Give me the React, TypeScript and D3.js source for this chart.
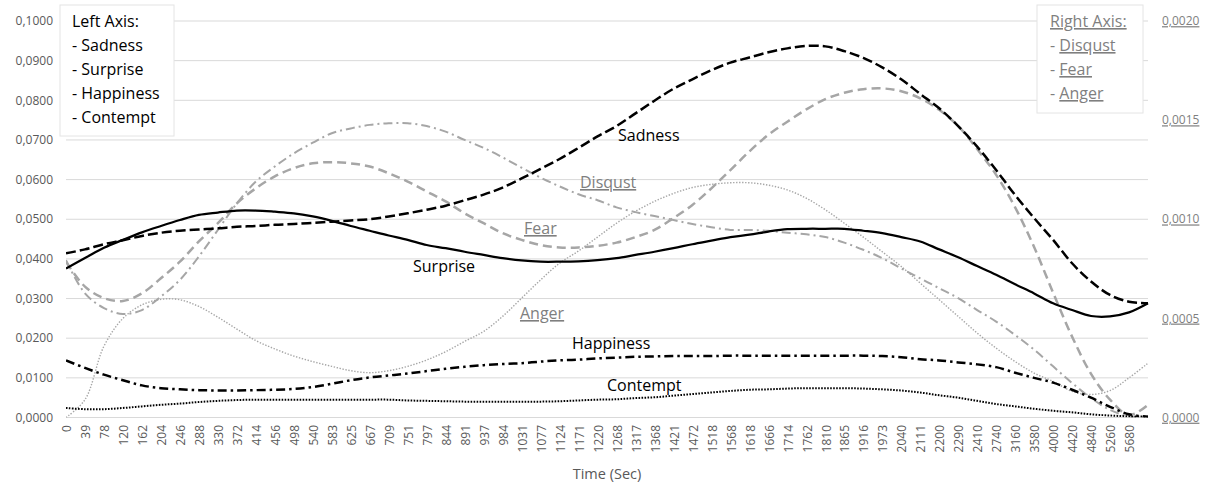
import React from "react";
import * as d3 from "d3";

// Category axis (seconds); the last point is drawn but carries no label in the original
const timeLabels = [
  "0", "39", "78", "120", "162", "204", "246", "288", "330", "372",
  "414", "456", "498", "540", "583", "625", "667", "709", "751", "797",
  "844", "891", "937", "984", "1031", "1077", "1124", "1171", "1220", "1268",
  "1317", "1368", "1421", "1472", "1518", "1568", "1618", "1666", "1714", "1762",
  "1810", "1865", "1916", "1973", "2040", "2111", "2200", "2290", "2410", "2740",
  "3160", "3580", "4000", "4420", "4840", "5260", "5680", "",
];

// Left axis series
const sadness = [
  0.0414, 0.0424, 0.0437, 0.0447, 0.0458, 0.0466, 0.0471, 0.0474, 0.0477, 0.0481,
  0.0483, 0.0486, 0.0488, 0.0491, 0.0494, 0.0497, 0.05, 0.0507, 0.0515, 0.0524,
  0.0534, 0.0548, 0.0562, 0.058, 0.0603, 0.0627, 0.0652, 0.068, 0.0709, 0.0735,
  0.0767, 0.0799, 0.0829, 0.0853, 0.0876, 0.0895, 0.0908, 0.0921, 0.0931, 0.0937,
  0.0936, 0.0924, 0.0907, 0.0883, 0.0853, 0.0816, 0.078, 0.0735, 0.0683, 0.0624,
  0.0561, 0.0503, 0.0448, 0.0389, 0.0343, 0.0309, 0.0292, 0.0288,
];
const surprise = [
  0.0376, 0.0402, 0.0428, 0.0448, 0.0467, 0.0483, 0.0498, 0.0511, 0.0517, 0.0522,
  0.0522, 0.0519, 0.0515, 0.0507, 0.0496, 0.0483, 0.0471, 0.0459, 0.0448, 0.0435,
  0.0427, 0.0418, 0.041, 0.0402, 0.0396, 0.0393, 0.0393, 0.0394, 0.0397, 0.0402,
  0.041, 0.0418, 0.0427, 0.0437, 0.0446, 0.0455, 0.0461, 0.0469, 0.0475, 0.0476,
  0.0476, 0.0476, 0.0471, 0.0465, 0.0455, 0.0444, 0.0424, 0.0404, 0.0382, 0.036,
  0.0336, 0.0313, 0.0288, 0.0271, 0.0256, 0.0255, 0.0265, 0.0288,
];
const happiness = [
  0.0144, 0.0125, 0.0108, 0.0094, 0.0081, 0.0074, 0.0071, 0.0069, 0.0068, 0.0068,
  0.0069, 0.007, 0.0072, 0.0077, 0.0085, 0.0094, 0.0101, 0.0106, 0.0111, 0.0117,
  0.0123, 0.0128, 0.0132, 0.0135, 0.0137, 0.0141, 0.0144, 0.0146, 0.0149, 0.0151,
  0.0153, 0.0154, 0.0155, 0.0155, 0.0155, 0.0156, 0.0156, 0.0156, 0.0156, 0.0156,
  0.0156, 0.0156, 0.0156, 0.0155, 0.0152, 0.0147, 0.0144, 0.0139, 0.0134, 0.0127,
  0.0113, 0.01, 0.0088, 0.007, 0.005, 0.0027, 0.0008, 0.0002,
];
const contempt = [
  0.0024, 0.0021, 0.0021, 0.0024, 0.0028, 0.0032, 0.0035, 0.0039, 0.0042, 0.0044,
  0.0045, 0.0045, 0.0045, 0.0045, 0.0045, 0.0045, 0.0045, 0.0045, 0.0043, 0.0042,
  0.0041, 0.004, 0.004, 0.004, 0.004, 0.004, 0.0041, 0.0043, 0.0045, 0.0046,
  0.0049, 0.0051, 0.0055, 0.0059, 0.0063, 0.0067, 0.007, 0.0071, 0.0073, 0.0074,
  0.0074, 0.0074, 0.0073, 0.0071, 0.0068, 0.0063, 0.0056, 0.005, 0.0042, 0.0034,
  0.0028, 0.0022, 0.0017, 0.0013, 0.0008, 0.0005, 0.0003, 0.0002,
];

// Right axis series
const disgust = [
  0.000794, 0.000626, 0.000552, 0.000522, 0.000542, 0.00061, 0.000694, 0.000812, 0.000946, 0.00108,
  0.00119, 0.001266, 0.001332, 0.001386, 0.001434, 0.001458, 0.001476, 0.001484, 0.001484, 0.00147,
  0.001442, 0.0014, 0.00136, 0.001312, 0.00126, 0.00121, 0.001166, 0.001126, 0.001096, 0.00106,
  0.001036, 0.001016, 0.000996, 0.000976, 0.00096, 0.000946, 0.000946, 0.000942, 0.000932, 0.000924,
  0.00091, 0.000882, 0.000846, 0.000804, 0.000752, 0.000702, 0.000652, 0.000602, 0.000542, 0.000484,
  0.000416, 0.000342, 0.000258, 0.000174, 0.000098, 0.000038, 0.000006, 0.0,
];
const fear = [
  0.000786, 0.00066, 0.000602, 0.000588, 0.000626, 0.000702, 0.000786, 0.000888, 0.00098, 0.00108,
  0.001156, 0.001216, 0.001258, 0.001282, 0.001288, 0.001282, 0.001266, 0.001232, 0.00119, 0.00114,
  0.00109, 0.00103, 0.00098, 0.00093, 0.000896, 0.00087, 0.000858, 0.000858, 0.000866, 0.000882,
  0.00091, 0.000946, 0.001006, 0.001072, 0.001156, 0.001248, 0.001342, 0.001426, 0.001492, 0.001554,
  0.001606, 0.001638, 0.001656, 0.00166, 0.001646, 0.00161, 0.001552, 0.00147, 0.001354, 0.001224,
  0.00106, 0.00086, 0.00063, 0.000408, 0.00022, 0.00009, 0.000012, 0.000064,
];
const anger = [
  0.0, 0.00009, 0.00036, 0.0005, 0.000568, 0.000596, 0.000594, 0.00056, 0.000506, 0.000446,
  0.000388, 0.000346, 0.00031, 0.000282, 0.000258, 0.000236, 0.000226, 0.000236, 0.000258, 0.00029,
  0.000332, 0.000384, 0.000434, 0.00051, 0.000602, 0.000694, 0.000778, 0.00084, 0.00091, 0.00098,
  0.00104, 0.00109, 0.00113, 0.00116, 0.001176, 0.001184, 0.001184, 0.001172, 0.001148, 0.001106,
  0.001048, 0.00098, 0.00091, 0.000836, 0.000762, 0.000678, 0.000594, 0.00051, 0.000426, 0.00035,
  0.000282, 0.000224, 0.000182, 0.000132, 0.000116, 0.000136, 0.0002, 0.000274,
];

const leftTicks = [0, 0.01, 0.02, 0.03, 0.04, 0.05, 0.06, 0.07, 0.08, 0.09, 0.1];
const rightTicks = [0, 0.0005, 0.001, 0.0015, 0.002];

const FONT = "'Open Sans', 'Noto Sans', sans-serif";
const BLACK = "#000000";
const GRAY = "#a6a6a6";
const AXIS_TEXT = "#595959";
const RIGHT_TEXT = "#7f7f7f";

const fmt = (v: number) => v.toFixed(4).replace(".", ",");

export default function App() {
  const W = 1210;
  const H = 483;
  const plot = { left: 66, right: 1148, top: 21, bottom: 417.5 };

  const idx = timeLabels.map((_, i) => i);
  const x = d3.scalePoint<number>().domain(idx).range([plot.left, plot.right]);
  const yL = d3.scaleLinear().domain([0, 0.1]).range([plot.bottom, plot.top]);
  const yR = d3.scaleLinear().domain([0, 0.002]).range([plot.bottom, plot.top]);

  const mkLine = (scale: d3.ScaleLinear<number, number>) =>
    d3
      .line<number>()
      .x((_, i) => x(i) as number)
      .y((d) => scale(d))
      .curve(d3.curveCatmullRom.alpha(0.5));

  const lineL = mkLine(yL);
  const lineR = mkLine(yR);

  const series = [
    { name: "Fear", data: fear, line: lineR, color: GRAY, w: 2.5, dash: "9,5" },
    { name: "Disgust", data: disgust, line: lineR, color: GRAY, w: 2, dash: "9,4,2,4" },
    { name: "Anger", data: anger, line: lineR, color: GRAY, w: 1.4, dash: "1.4,1.6" },
    { name: "Contempt", data: contempt, line: lineL, color: BLACK, w: 2, dash: "1.6,1.4" },
    { name: "Happiness", data: happiness, line: lineL, color: BLACK, w: 2.5, dash: "9,4,2.5,4" },
    { name: "Surprise", data: surprise, line: lineL, color: BLACK, w: 2.25, dash: "none" },
    { name: "Sadness", data: sadness, line: lineL, color: BLACK, w: 2.5, dash: "10,4" },
  ];

  const inlineLabels = [
    { text: "Sadness", x: 618, y: 141, gray: false },
    { text: "Disqust", x: 580, y: 188, gray: true },
    { text: "Fear", x: 524, y: 234, gray: true },
    { text: "Surprise", x: 413, y: 272, gray: false },
    { text: "Anger", x: 520, y: 319, gray: true },
    { text: "Happiness", x: 572, y: 349, gray: false },
    { text: "Contempt", x: 607, y: 391, gray: false },
  ];

  const leftLegend = ["Left Axis:", "- Sadness", "- Surprise", "- Happiness", "- Contempt"];
  const rightLegend = ["Disqust", "Fear", "Anger"];

  return (
    <div style={{ position: "absolute", left: 0, top: 0 }}>
      <svg width={W} height={H} style={{ display: "block", background: "#fff" }} fontFamily={FONT}>
        <defs>
          <clipPath id="plotClip">
            <rect x={plot.left} y={plot.top - 5} width={plot.right - plot.left + 2} height={plot.bottom - plot.top + 5} />
          </clipPath>
        </defs>
        <rect x={0} y={0} width={W} height={H} fill="#fff" />

        {/* gridlines */}
        {leftTicks.map((t) => (
          <line
            key={"g" + t}
            x1={plot.left}
            x2={plot.right}
            y1={yL(t)}
            y2={yL(t)}
            stroke="#d9d9d9"
            strokeWidth={1}
          />
        ))}

        {/* left axis labels */}
        {leftTicks.map((t) => (
          <text key={"l" + t} x={53} y={yL(t)} dy="0.35em" textAnchor="end" fontSize={12} fill={AXIS_TEXT}>
            {fmt(t)}
          </text>
        ))}

        {/* right axis labels */}
        {rightTicks.map((t) => (
          <text
            key={"r" + t}
            x={1162}
            y={yR(t)}
            dy="0.35em"
            textAnchor="start"
            fontSize={12}
            fill={RIGHT_TEXT}
            textDecoration="underline"
          >
            {fmt(t)}
          </text>
        ))}

        {/* x tick labels */}
        {timeLabels.map((lab, i) =>
          lab ? (
            <text
              key={"x" + i}
              transform={`translate(${(x(i) as number) + 1},425) rotate(-90)`}
              dy="0.35em"
              textAnchor="end"
              fontSize={12}
              fill={AXIS_TEXT}
            >
              {lab}
            </text>
          ) : null
        )}

        <text x={(plot.left + plot.right) / 2} y={479} textAnchor="middle" fontSize={14.5} fill={AXIS_TEXT}>
          Time (Sec)
        </text>

        {/* series */}
        <g clipPath="url(#plotClip)">
          {series.map((s) => (
            <path
              key={s.name}
              d={s.line(s.data) || ""}
              fill="none"
              stroke={s.color}
              strokeWidth={s.w}
              strokeDasharray={s.dash}
              strokeLinejoin="round"
            />
          ))}
        </g>

        {/* inline labels */}
        {inlineLabels.map((l) => (
          <text
            key={l.text}
            x={l.x}
            y={l.y}
            fontSize={16}
            fill={l.gray ? RIGHT_TEXT : "#000"}
            textDecoration={l.gray ? "underline" : undefined}
          >
            {l.text}
          </text>
        ))}

        {/* left legend box */}
        <rect x={60} y={5} width={114} height={131} fill="#fff" stroke="#e4e4e4" strokeWidth={1} />
        {leftLegend.map((t, i) => (
          <text key={t} x={72} y={27 + i * 24} fontSize={16} fill="#000">
            {t}
          </text>
        ))}

        {/* right legend box */}
        <rect x={1037} y={5} width={106} height={108} fill="#fff" stroke="#e4e4e4" strokeWidth={1} />
        <text x={1050} y={27} fontSize={16} fill={RIGHT_TEXT} textDecoration="underline">
          Right Axis:
        </text>
        {rightLegend.map((t, i) => (
          <text key={t} x={1050} y={51 + i * 24} fontSize={16} fill={RIGHT_TEXT}>
            <tspan>- </tspan>
            <tspan textDecoration="underline">{t}</tspan>
          </text>
        ))}
      </svg>
    </div>
  );
}
